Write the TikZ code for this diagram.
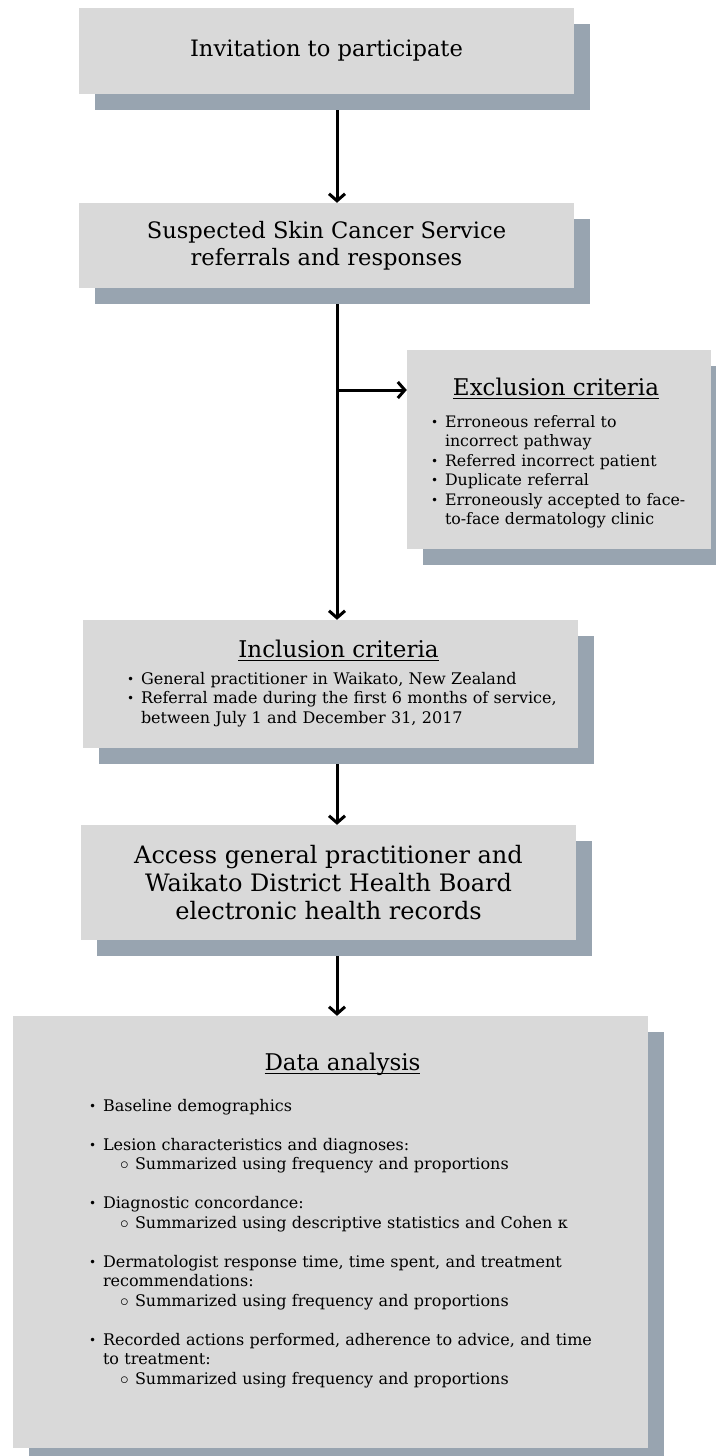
\documentclass[tikz,border=0pt]{standalone}
\usepackage{fontspec}
\setmainfont{DejaVu Serif}
\usepackage{enumitem}
\usetikzlibrary{arrows.meta,shadows}
\definecolor{boxgray}{HTML}{D9D9D9}
\definecolor{shadowblue}{HTML}{98A4B0}

\newcommand{\ulhead}[1]{\setbox0\hbox{#1}\rlap{\rule[-3.5pt]{\wd0}{1.6pt}}\box0}
\setlist[itemize,1]{label=\raisebox{1pt}{\fontsize{12}{12}\selectfont\textbullet},
  leftmargin=14pt, labelsep=4pt, labelwidth=10pt, align=left, nosep}
\setlist[itemize,2]{label=$\circ$, leftmargin=32pt, labelsep=5pt,
  labelwidth=10pt, align=left, nosep}

\tikzset{
  box/.style={fill=boxgray, inner sep=0pt, align=center,
    general shadow={fill=shadowblue, shadow xshift=16pt, shadow yshift=-16pt}},
  head/.style={inner sep=0pt, anchor=base, font=\fontsize{23}{27}\selectfont},
  list/.style={inner sep=0pt, anchor=base west, align=left,
    font=\fontsize{16}{19.5}\selectfont},
  arr/.style={line width=3pt, -{Straight Barb[length=7pt,width=16pt]}}
}

\begin{document}
\begin{tikzpicture}[x=1pt,y=-1pt]
\useasboundingbox (0,0) rectangle (715,1456);

% boxes
\node[box, minimum width=495, minimum height=86,
  font=\fontsize{22.6}{27}\selectfont] (inv) at (326.5,51)
  {Invitation to participate};
\node[box, minimum width=495, minimum height=85,
  font=\fontsize{22.6}{27}\selectfont] (ref) at (326.5,245.5)
  {Suspected Skin Cancer Service\\referrals and responses};

\node[box, minimum width=304, minimum height=199] (excl) at (559,449.5) {};
\node[head] (exclhead) at ([xshift=-3pt,yshift=-46pt]excl.north)
  {\ulhead{Exclusion criteria}};
\node[list, text width=272pt, font=\fontsize{15.8}{19.5}\selectfont] (excllist)
  at ([xshift=24pt,yshift=-58pt]excl.north west)
  {\begin{itemize}
   \item Erroneous referral to\newline incorrect pathway
   \item Referred incorrect patient
   \item Duplicate referral
   \item Erroneously accepted to face-\newline to-face dermatology clinic
   \end{itemize}};

\node[box, minimum width=495, minimum height=128] (incl) at (330.5,684) {};
\node[head] (inclhead) at ([xshift=8pt,yshift=-38pt]incl.north)
  {\ulhead{Inclusion criteria}};
\node[list, text width=450pt] (incllist) at ([xshift=44pt,yshift=-45pt]incl.north west)
  {\begin{itemize}
   \item General practitioner in Waikato, New Zealand
   \item Referral made during the first 6 months of service,\newline
     between July 1 and December 31, 2017
   \end{itemize}};

\node[box, minimum width=495, minimum height=115,
  font=\fontsize{24}{28}\selectfont] (acc) at (328.5,882.5)
  {Access general practitioner and\\Waikato District Health Board\\electronic health records};

\node[box, minimum width=635, minimum height=432] (data) at (330.5,1232) {};
\node[head] (datahead) at ([xshift=12pt,yshift=-55pt]data.north)
  {\ulhead{Data analysis}};
\node[list, text width=540pt] (datalist) at ([xshift=76pt,yshift=-76pt]data.north west)
  {\begin{itemize}[itemsep=19.5pt]
   \item Baseline demographics
   \item Lesion characteristics and diagnoses:
     \begin{itemize}\item Summarized using frequency and proportions\end{itemize}
   \item Diagnostic concordance:
     \begin{itemize}\item Summarized using descriptive statistics and Cohen κ\end{itemize}
   \item Dermatologist response time, time spent, and treatment\newline recommendations:
     \begin{itemize}\item Summarized using frequency and proportions\end{itemize}
   \item Recorded actions performed, adherence to advice, and time\newline to treatment:
     \begin{itemize}\item Summarized using frequency and proportions\end{itemize}
   \end{itemize}};

% arrows
\coordinate (spine) at (337,0);
\coordinate (branch) at (337,390);
\draw[arr] (inv.south -| spine) ++(0,16) -- (ref.north -| spine);
\draw[arr] (ref.south -| spine) ++(0,16) -- (incl.north -| spine);
\draw[arr] (branch) -- (branch -| excl.west);
\draw[arr] (incl.south -| spine) ++(0,16) -- (acc.north -| spine);
\draw[arr] (acc.south -| spine) ++(0,16) -- (data.north -| spine);
\end{tikzpicture}
\end{document}
